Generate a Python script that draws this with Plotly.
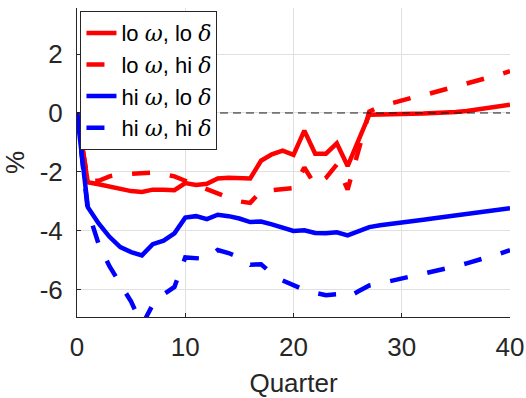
import plotly.graph_objects as go

quarters = list(range(0, 41))

lo_omega_lo_delta = [0, -2.35, -2.42, -2.5, -2.6, -2.65, -2.68, -2.6, -2.6, -2.62,
                     -2.38, -2.44, -2.4, -2.22, -2.2, -2.2, -2.22, -1.62, -1.4, -1.28,
                     -1.42, -0.6, -1.38, -1.38, -1.03, -1.8, -0.95, -0.06, -0.05, -0.05,
                     -0.04, -0.03, -0.02, 0.0, 0.01, 0.03, 0.07, 0.12, 0.17, 0.22, 0.28]

lo_omega_hi_delta = [0, -2.3, -2.3, -2.15, -2.08, -2.05, -2.03, -2.02, -2.08, -2.15,
                     -2.3, -2.45, -2.6, -2.72, -2.87, -3.0, -3.05, -2.65, -2.62, -2.6,
                     -2.55, -1.85, -2.45, -2.2, -1.75, -2.6, -1.2, 0.05, 0.22, 0.33,
                     0.42, 0.52, 0.6, 0.7, 0.78, 0.88, 1.0, 1.1, 1.19, 1.3, 1.42]

hi_omega_lo_delta = [0, -3.2, -3.75, -4.2, -4.55, -4.72, -4.83, -4.45, -4.33, -4.08,
                     -3.55, -3.5, -3.6, -3.45, -3.5, -3.58, -3.7, -3.68, -3.78, -3.88,
                     -4.0, -3.98, -4.07, -4.08, -4.05, -4.15, -4.0, -3.87, -3.81, -3.77,
                     -3.72, -3.67, -3.62, -3.57, -3.52, -3.47, -3.42, -3.37, -3.32, -3.28, -3.23]

hi_omega_hi_delta = [0, -3.3, -4.45, -5.2, -5.8, -6.4, -7.2, -6.5, -6.15, -5.9,
                     -4.9, -4.93, -4.95, -4.65, -4.75, -4.9, -5.15, -5.13, -5.45, -5.68,
                     -5.85, -6.0, -6.1, -6.18, -6.15, -6.25, -6.05, -5.85, -5.78, -5.7,
                     -5.6, -5.52, -5.45, -5.37, -5.28, -5.2, -5.1, -5.0, -4.9, -4.78, -4.65]

def lab(a, b):
    return (f"{a} <i><span style='font-family:DejaVu Serif'>ω</span></i>, "
            f"{b} <i><span style='font-family:DejaVu Serif'>δ</span></i>")

series_names = [lab("lo", "lo"), lab("lo", "hi"), lab("hi", "lo"), lab("hi", "hi")]
series_values = [lo_omega_lo_delta, lo_omega_hi_delta, hi_omega_lo_delta, hi_omega_hi_delta]
series_colors = ["#ff0000", "#ff0000", "#0000ff", "#0000ff"]
series_dash = ["solid", "18px,20px", "solid", "18px,20px"]

x_ticks = [0, 10, 20, 30, 40]
y_ticks = [-6, -4, -2, 0, 2]
y_tick_labels = ["-6", "-4", "-2", "0", "2"]

font_color = "#262626"
fig = go.Figure()
for name, vals, col, dash in zip(series_names, series_values, series_colors, series_dash):
    fig.add_trace(go.Scatter(x=quarters, y=vals, mode="lines", name=name,
                             line=dict(color=col, width=4.5, dash=dash)))

fig.add_hline(y=0, line=dict(color="#1a1a1a", width=1, dash="8px,5px"), layer="above")

fig.update_layout(
    width=526, height=398,
    margin=dict(l=77, r=16, t=8, b=81, autoexpand=False),
    paper_bgcolor="white", plot_bgcolor="white",
    font=dict(family="Liberation Sans, Arial, sans-serif", color=font_color, size=26),
    showlegend=True,
    legend=dict(x=0.008, y=0.99, xanchor="left", yanchor="top",
                bgcolor="white", bordercolor="#262626", borderwidth=1,
                font=dict(size=22, color="black"), tracegroupgap=0,
                itemwidth=30),
    xaxis=dict(range=[0, 40], tickvals=x_ticks, showgrid=True, gridcolor="#e0e0e0",
               gridwidth=1, zeroline=False, showline=True, linecolor=font_color,
               linewidth=1, ticks="inside", ticklen=4, tickcolor=font_color,
               ticklabelstandoff=7, automargin=False,
               tickfont=dict(size=26, color=font_color),
               title=dict(text="Quarter", font=dict(size=26, color=font_color), standoff=12)),
    yaxis=dict(range=[-6.92, 3.56], tickvals=y_ticks, ticktext=y_tick_labels,
               showgrid=True, gridcolor="#e0e0e0", gridwidth=1, zeroline=False,
               showline=True, linecolor=font_color, linewidth=1, ticks="inside",
               ticklen=4, tickcolor=font_color, ticklabelstandoff=8, automargin=False,
               tickfont=dict(size=26, color=font_color),
               title=dict(text="%", font=dict(size=26, color=font_color), standoff=7)),
)

fig.write_html("out.html")
